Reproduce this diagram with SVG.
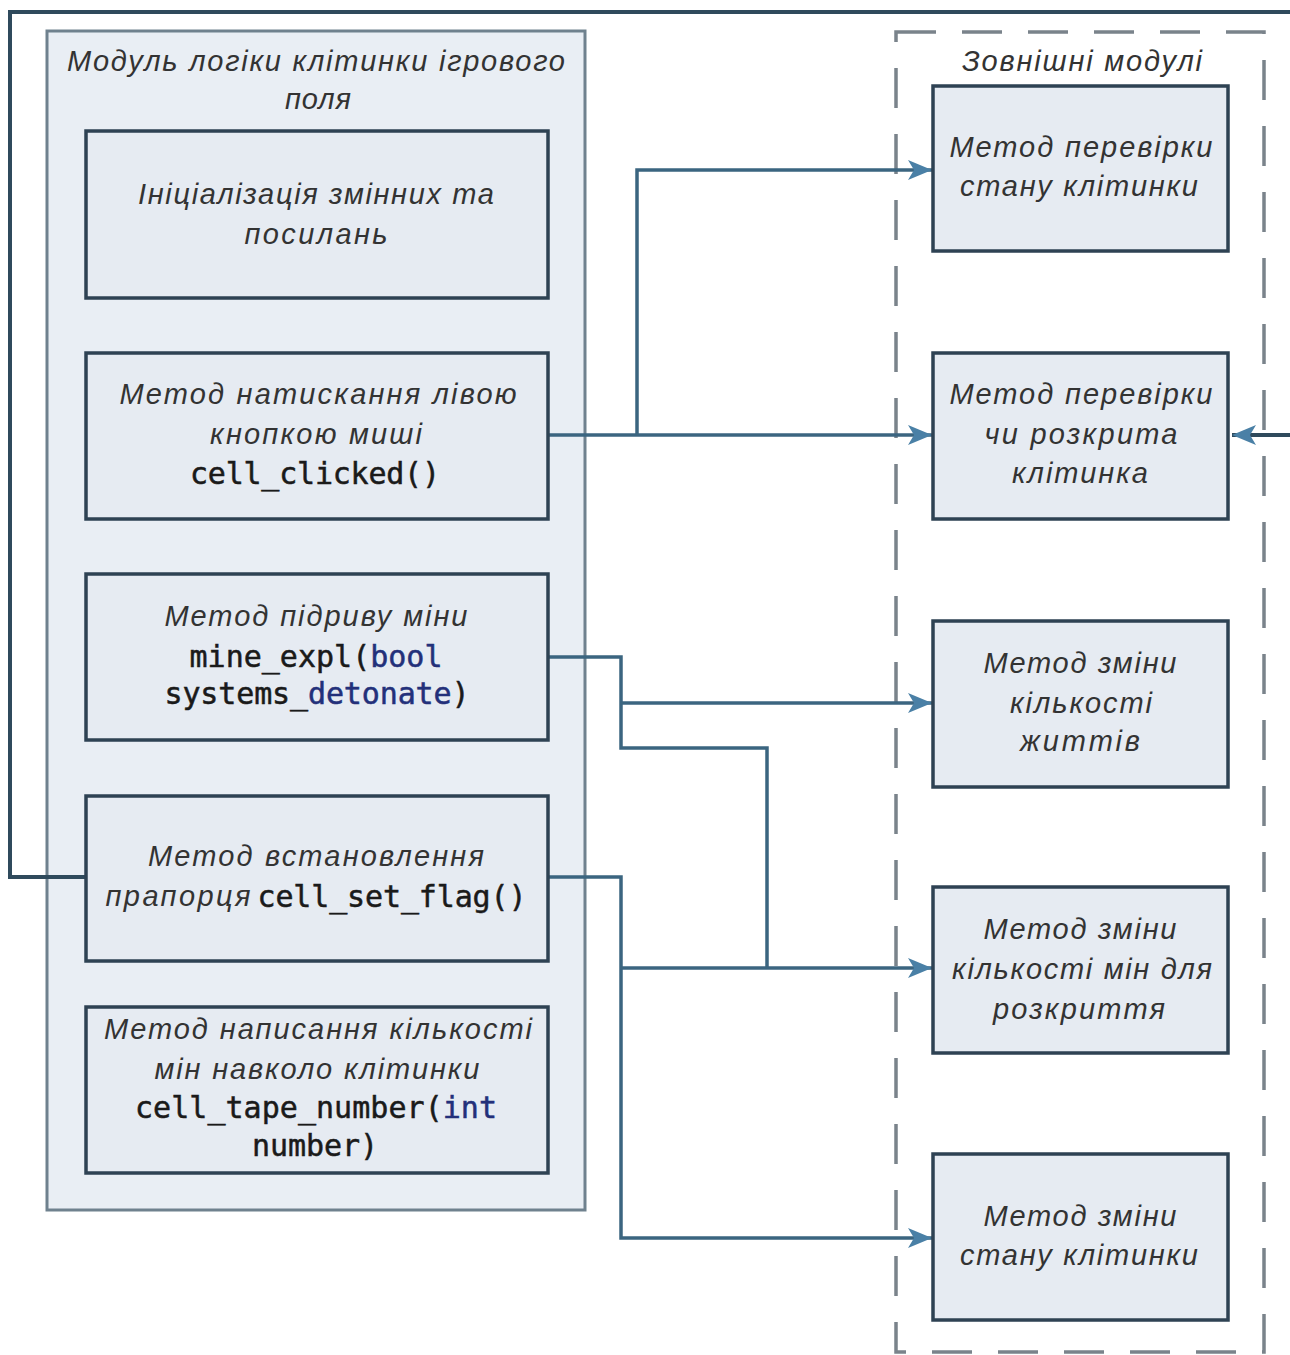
<svg xmlns="http://www.w3.org/2000/svg" width="1290" height="1355" viewBox="0 0 1290 1355">
<style>
.it{font-family:"Liberation Sans",Arial,sans-serif;font-style:italic;font-size:29px;fill:#333;text-anchor:middle}
.mo{font-family:"DejaVu Sans Mono","Liberation Mono",monospace;font-size:30px;fill:#1a1a1a;stroke:#1a1a1a;stroke-width:0.5;text-anchor:middle}
.kw{fill:#23307a;stroke:#23307a}
.box{fill:#e6ebf2;stroke:#2e4253;stroke-width:3.5}
.cont{fill:#e9eef4;stroke:#6f818e;stroke-width:3}
.dash{fill:none;stroke:#7a838b;stroke-width:3.5;stroke-dasharray:40 26}
.con{fill:none;stroke:#3b6580;stroke-width:3.5}
.loop{fill:none;stroke:#2f4a5c;stroke-width:4}
</style>
<defs>
<marker id="ah" viewBox="0 0 24 20" refX="24" refY="10" markerWidth="24" markerHeight="20" markerUnits="userSpaceOnUse" orient="auto">
<path d="M0,0 L24,10 L0,20 L6,10 z" fill="#4a80a6"/>
</marker>
</defs>
<rect width="1290" height="1355" fill="#ffffff"/>

<g id="module">
<rect class="cont" x="47" y="31" width="538" height="1179"/>
<text class="it" x="316" y="71" textLength="498" lengthAdjust="spacing">Модуль логіки клітинки ігрового</text>
<text class="it" x="318" y="109" textLength="66" lengthAdjust="spacing">поля</text>
</g>

<g id="external">
<rect class="dash" x="896" y="32" width="368" height="1320"/>
<text class="it" x="1082" y="71" textLength="240" lengthAdjust="spacing">Зовнішні модулі</text>
</g>

<g id="connectors">
<path class="loop" d="M85,877 H10 V12 H1300 V435 H1232" marker-end="url(#ah)"/>
<path class="con" d="M548,435 H932" marker-end="url(#ah)"/>
<path class="con" d="M637,435 V170 H932" marker-end="url(#ah)"/>
<path class="con" d="M548,657 H621 V748 H767 V968"/>
<path class="con" d="M621,703 H932" marker-end="url(#ah)"/>
<path class="con" d="M548,877 H621 V1238 H932" marker-end="url(#ah)"/>
<path class="con" d="M621,968 H932" marker-end="url(#ah)"/>
</g>

<g id="init">
<rect class="box" x="86" y="131" width="462" height="167"/>
<text class="it" x="316" y="204" textLength="356" lengthAdjust="spacing">Ініціалізація змінних та</text>
<text class="it" x="316" y="244" textLength="143" lengthAdjust="spacing">посилань</text>
</g>

<g id="cell_clicked">
<rect class="box" x="86" y="353" width="462" height="166"/>
<text class="it" x="318" y="404" textLength="397" lengthAdjust="spacing">Метод натискання лівою</text>
<text class="it" x="316" y="444" textLength="212" lengthAdjust="spacing">кнопкою миші</text>
<text class="mo" x="315" y="484" textLength="250" lengthAdjust="spacing">cell_clicked()</text>
</g>

<g id="mine_expl">
<rect class="box" x="86" y="574" width="462" height="166"/>
<text class="it" x="316" y="626" textLength="303" lengthAdjust="spacing">Метод підриву міни</text>
<text class="mo" x="316" y="667" textLength="253" lengthAdjust="spacing">mine_expl(<tspan class="kw">bool</tspan></text>
<text class="mo" x="317" y="704" textLength="305" lengthAdjust="spacing">systems_<tspan class="kw">detonate</tspan>)</text>
</g>

<g id="cell_set_flag">
<rect class="box" x="86" y="796" width="462" height="165"/>
<text class="it" x="316" y="866" textLength="336" lengthAdjust="spacing">Метод встановлення</text>
<text class="it" x="178" y="906" textLength="145" lengthAdjust="spacing">прапорця</text>
<text class="mo" x="392" y="907" textLength="269" lengthAdjust="spacing">cell_set_flag()</text>
</g>

<g id="cell_tape_number">
<rect class="box" x="86" y="1007" width="462" height="166"/>
<text class="it" x="318" y="1039" textLength="428" lengthAdjust="spacing">Метод написання кількості</text>
<text class="it" x="317" y="1079" textLength="325" lengthAdjust="spacing">мін навколо клітинки</text>
<text class="mo" x="316" y="1118" textLength="362" lengthAdjust="spacing">cell_tape_number(<tspan class="kw">int</tspan></text>
<text class="mo" x="315" y="1156" textLength="126" lengthAdjust="spacing">number)</text>
</g>

<g id="check_state">
<rect class="box" x="933" y="86" width="295" height="165"/>
<text class="it" x="1081" y="157" textLength="263" lengthAdjust="spacing">Метод перевірки</text>
<text class="it" x="1079" y="196" textLength="238" lengthAdjust="spacing">стану клітинки</text>
</g>

<g id="check_open">
<rect class="box" x="933" y="353" width="295" height="166"/>
<text class="it" x="1081" y="404" textLength="263" lengthAdjust="spacing">Метод перевірки</text>
<text class="it" x="1081" y="444" textLength="193" lengthAdjust="spacing">чи розкрита</text>
<text class="it" x="1080" y="483" textLength="136" lengthAdjust="spacing">клітинка</text>
</g>

<g id="change_lives">
<rect class="box" x="933" y="621" width="295" height="166"/>
<text class="it" x="1080" y="673" textLength="193" lengthAdjust="spacing">Метод зміни</text>
<text class="it" x="1081" y="713" textLength="142" lengthAdjust="spacing">кількості</text>
<text class="it" x="1080" y="751" textLength="120" lengthAdjust="spacing">життів</text>
</g>

<g id="change_mines">
<rect class="box" x="933" y="887" width="295" height="166"/>
<text class="it" x="1080" y="939" textLength="193" lengthAdjust="spacing">Метод зміни</text>
<text class="it" x="1082" y="979" textLength="260" lengthAdjust="spacing">кількості мін для</text>
<text class="it" x="1079" y="1019" textLength="172" lengthAdjust="spacing">розкриття</text>
</g>

<g id="change_cell_state">
<rect class="box" x="933" y="1154" width="295" height="166"/>
<text class="it" x="1080" y="1226" textLength="193" lengthAdjust="spacing">Метод зміни</text>
<text class="it" x="1079" y="1265" textLength="238" lengthAdjust="spacing">стану клітинки</text>
</g>
</svg>
